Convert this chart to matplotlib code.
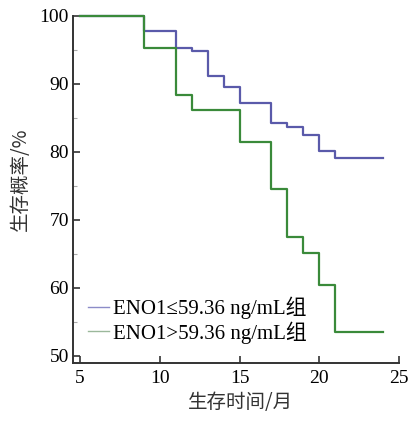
import matplotlib
matplotlib.use("Agg")
import matplotlib.pyplot as plt
from matplotlib.ticker import MultipleLocator

plt.rcParams['font.family'] = ['Liberation Serif', 'Noto Sans CJK SC', 'DejaVu Sans']

# Kaplan-Meier step data (time in months, survival %)
time_low = [5, 9, 11, 12, 13, 14, 15, 17, 18, 19, 20, 21, 24]
surv_low = [100, 97.7, 95.3, 94.75, 91.2, 89.5, 87.2, 84.2, 83.7, 82.5, 80.1, 79.0, 79.0]

time_high = [5, 9, 11, 12, 15, 17, 18, 19, 20, 21, 24]
surv_high = [100, 95.3, 88.3, 86.1, 81.4, 74.5, 67.45, 65.1, 60.4, 53.5, 53.5]

label_low = "ENO1≤59.36 ng/mL组"
label_high = "ENO1>59.36 ng/mL组"
xlabel = "生存时间/月"
ylabel = "生存概率/%"
xticks = [5, 10, 15, 20, 25]
yticks = [50, 60, 70, 80, 90, 100]

fig = plt.figure(figsize=(4.09, 4.21), dpi=100)
ax = fig.add_axes([0.1785, 0.1385, 0.7971, 0.8242])

c_low = "#5a5aaa"
c_high = "#3a8a3a"

ax.step(time_low, surv_low, where="post", color=c_low, lw=1.6, clip_on=False)
ax.step(time_high, surv_high, where="post", color=c_high, lw=1.6, clip_on=False)

# legend handles drawn thinner and lighter
h1, = ax.plot([], [], color="#8c8cc8", lw=1.0, label=label_low)
h2, = ax.plot([], [], color="#9bb89b", lw=1.0, label=label_high)
leg = ax.legend(handles=[h1, h2], loc="lower left", bbox_to_anchor=(0.046, 0.055),
                frameon=False, fontsize=15, handlelength=1.0, handletextpad=0.2,
                labelspacing=0.1, borderaxespad=0.0, borderpad=0.0)

ax.set_xlim(4.56, 25)
ax.set_ylim(48.97, 100)
ax.set_xticks(xticks)
ax.set_yticks(yticks)
ax.yaxis.set_minor_locator(MultipleLocator(5))

for s in ("top", "right"):
    ax.spines[s].set_visible(False)
for s in ("left", "bottom"):
    ax.spines[s].set_color("#333333")
    ax.spines[s].set_linewidth(1.4)

ax.tick_params(axis="both", which="major", direction="in", length=5, width=1.2,
               color="#333333", labelsize=14, pad=3)
ax.tick_params(axis="y", which="minor", direction="in", length=3, width=0.8,
               color="#aaaaaa")
ax.tick_params(axis="x", which="major", pad=5)

ax.set_xlabel(xlabel, fontsize=14, family=['Noto Sans CJK SC', 'Liberation Serif'],
              fontweight='light', color="#333333")
ax.set_ylabel(ylabel, fontsize=14, family=['Noto Sans CJK SC', 'Liberation Serif'],
              fontweight='light', color="#333333")
ax.xaxis.set_label_coords(0.515, -0.085)
ax.yaxis.set_label_coords(-0.13, 0.529)

fig.savefig("out.png", dpi=100, facecolor="white")
